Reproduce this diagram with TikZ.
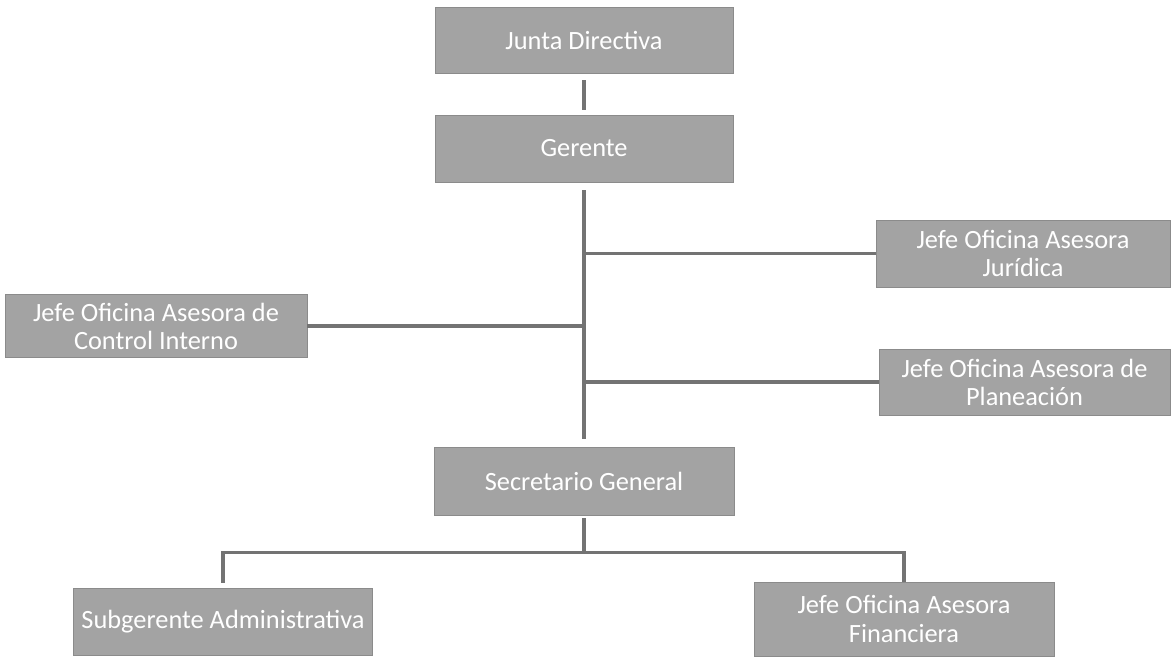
\documentclass[tikz,border=0pt]{standalone}
\usepackage{fontspec}
\setmainfont{Carlito}
\usetikzlibrary{positioning}
\definecolor{caja}{gray}{0.64}
\definecolor{linea}{gray}{0.45}

\begin{document}
\begin{tikzpicture}[
    cargo/.style={fill=caja, draw=caja!85!black, line width=0.4pt, text=white,
        align=center, inner sep=0pt, font=\fontsize{15}{16}\selectfont},
    enlace/.style={draw=linea, line width=1.8pt}
]
    \useasboundingbox (0,0) rectangle (23.42,13.12);

    % cargos
    \node[cargo, minimum width=5.96cm, minimum height=1.32cm] (junta) at (11.68,12.32) {Junta Directiva};
    \node[cargo, minimum width=5.96cm, minimum height=1.34cm] (gerente) at (11.68,10.15) {Gerente};
    \node[cargo, minimum width=5.88cm, minimum height=1.34cm] (juridica) at (20.46,8.05) {Jefe Oficina Asesora\\Jurídica};
    \node[cargo, minimum width=6.04cm, minimum height=1.26cm] (control) at (3.12,6.60) {Jefe Oficina Asesora de\\Control Interno};
    \node[cargo, minimum width=5.82cm, minimum height=1.32cm] (planeacion) at (20.49,5.48) {Jefe Oficina Asesora de\\Planeación};
    \node[cargo, minimum width=6.00cm, minimum height=1.36cm] (secretario) at (11.68,3.50) {Secretario General};
    \node[cargo, minimum width=5.98cm, minimum height=1.34cm] (subgerente) at (4.46,0.69) {Subgerente Administrativa};
    \node[cargo, minimum width=6.00cm, minimum height=1.48cm] (financiera) at (18.08,0.74) {Jefe Oficina Asesora\\Financiera};

    % lineas
    \draw[enlace, shorten <=0.14cm, shorten >=0.10cm] (junta) -- (gerente);
    \draw[enlace, shorten <=0.16cm, shorten >=0.16cm] (gerente) -- (secretario);
    \draw[enlace] (juridica.west) -- (juridica.west -| gerente.south);
    \draw[enlace] (control.east) -- (control.east -| gerente.south);
    \draw[enlace] (planeacion.west) -- (planeacion.west -| gerente.south);

    \draw[enlace, shorten <=0.06cm] (secretario.south) -- ++(0,-0.74) coordinate (bus);
    \draw[enlace, shorten <=0.10cm] (subgerente.north) |- (bus) -| (financiera.north);
\end{tikzpicture}
\end{document}
